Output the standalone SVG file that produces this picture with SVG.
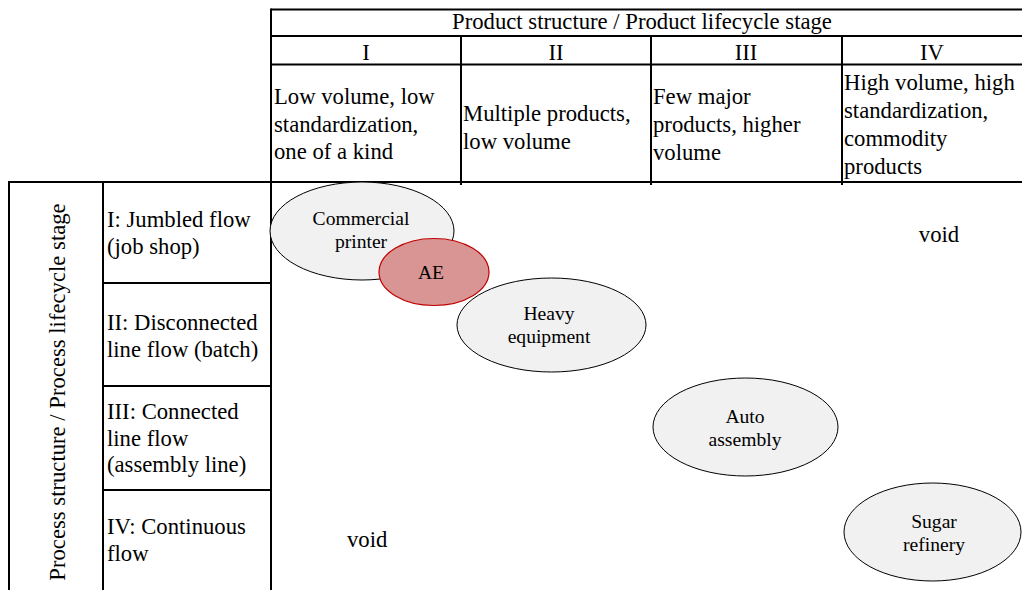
<svg xmlns="http://www.w3.org/2000/svg" width="1022" height="590" viewBox="0 0 1022 590">
  <style>
    .grid line { stroke: #000; stroke-width: 2; }
    text { font-family: "Liberation Serif", "Times New Roman", Times, serif; fill: #000; }
    .cell { font-size: 22.7px; }
    .lbl { font-size: 19.6px; text-anchor: middle; }
    .mid { text-anchor: middle; }
    .blob { fill: #f1f1f1; stroke: #000; stroke-width: 1; }
    .hot { fill: #d99594; stroke: #c00000; stroke-width: 1.2; }
  </style>
  <rect width="1022" height="590" fill="#fff"/>

  <!-- table rules -->
  <g class="grid">
    <line x1="271" y1="9.5" x2="1022" y2="9.5"/>
    <line x1="271" y1="36" x2="1022" y2="36"/>
    <line x1="271" y1="64.5" x2="1022" y2="64.5"/>
    <line x1="8" y1="182" x2="1022" y2="182"/>
    <line x1="271" y1="8.5" x2="271" y2="590"/>
    <line x1="461" y1="36" x2="461" y2="185"/>
    <line x1="651" y1="36" x2="651" y2="185"/>
    <line x1="842" y1="36" x2="842" y2="185"/>
    <line x1="9" y1="181" x2="9" y2="590"/>
    <line x1="103" y1="181" x2="103" y2="590"/>
    <line x1="103" y1="283" x2="271" y2="283"/>
    <line x1="103" y1="386" x2="271" y2="386"/>
    <line x1="103" y1="490" x2="271" y2="490"/>
  </g>

  <!-- column header -->
  <g id="header" class="cell">
    <text x="642" y="28.5" class="mid">Product structure / Product lifecycle stage</text>
    <text x="366" y="59.5" class="mid">I</text>
    <text x="556" y="59.5" class="mid">II</text>
    <text x="746" y="59.5" class="mid">III</text>
    <text x="932" y="59.5" class="mid">IV</text>
  </g>

  <g id="col-1" class="cell">
    <text x="274" y="104">Low volume, low</text>
    <text x="274" y="131.5">standardization,</text>
    <text x="274" y="159">one of a kind</text>
  </g>
  <g id="col-2" class="cell">
    <text x="463" y="121">Multiple products,</text>
    <text x="463" y="148.5">low volume</text>
  </g>
  <g id="col-3" class="cell">
    <text x="653" y="104">Few major</text>
    <text x="653" y="132">products, higher</text>
    <text x="653" y="160">volume</text>
  </g>
  <g id="col-4" class="cell">
    <text x="844" y="90">High volume, high</text>
    <text x="844" y="118">standardization,</text>
    <text x="844" y="146">commodity</text>
    <text x="844" y="174">products</text>
  </g>

  <!-- row header -->
  <g id="row-title" class="cell">
    <text x="0" y="0" class="mid" transform="translate(64.5 392) rotate(-90)">Process structure / Process lifecycle stage</text>
  </g>
  <g id="row-1" class="cell">
    <text x="107" y="227">I: Jumbled flow</text>
    <text x="107" y="254">(job shop)</text>
  </g>
  <g id="row-2" class="cell">
    <text x="107" y="330">II: Disconnected</text>
    <text x="107" y="357">line flow (batch)</text>
  </g>
  <g id="row-3" class="cell">
    <text x="107" y="419">III: Connected</text>
    <text x="107" y="445.5">line flow</text>
    <text x="107" y="472">(assembly line)</text>
  </g>
  <g id="row-4" class="cell">
    <text x="107" y="534">IV: Continuous</text>
    <text x="107" y="561">flow</text>
  </g>

  <!-- empty corners -->
  <g id="void-top" class="cell"><text x="939" y="242" class="mid">void</text></g>
  <g id="void-bottom" class="cell"><text x="347" y="547">void</text></g>

  <!-- industries -->
  <g id="commercial-printer">
    <ellipse class="blob" cx="362" cy="231" rx="92" ry="49"/>
    <text class="lbl" x="361" y="225">Commercial</text>
    <text class="lbl" x="361" y="248">printer</text>
  </g>
  <g id="ae">
    <ellipse class="hot" cx="434" cy="272" rx="55" ry="33.5"/>
    <text class="lbl" x="431" y="279">AE</text>
  </g>
  <g id="heavy-equipment">
    <ellipse class="blob" cx="551.5" cy="325" rx="94.5" ry="47"/>
    <text class="lbl" x="549" y="320">Heavy</text>
    <text class="lbl" x="549" y="343">equipment</text>
  </g>
  <g id="auto-assembly">
    <ellipse class="blob" cx="745.5" cy="427" rx="92.5" ry="49"/>
    <text class="lbl" x="745" y="423">Auto</text>
    <text class="lbl" x="745" y="446">assembly</text>
  </g>
  <g id="sugar-refinery">
    <ellipse class="blob" cx="932.5" cy="532" rx="88.5" ry="49"/>
    <text class="lbl" x="934" y="528">Sugar</text>
    <text class="lbl" x="934" y="551">refinery</text>
  </g>

  <!-- no connectors in this chart -->
  <g id="connectors"/>
</svg>
